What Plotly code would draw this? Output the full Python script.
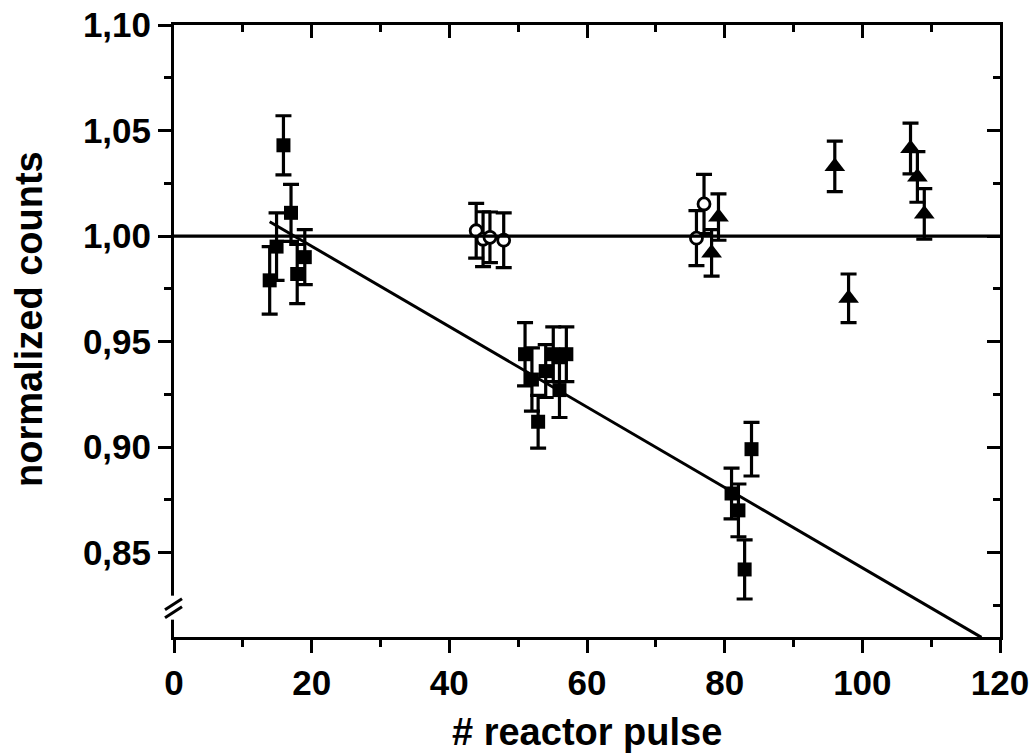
import plotly.graph_objects as go

# ---- data ----
sq_x = [13.9, 14.9, 15.9, 17.0, 17.9, 19.0, 51.0, 52.0, 52.9, 54.0, 55.1, 56.0, 57.0, 81.0, 82.0, 82.9, 83.9]
sq_y = [0.979, 0.995, 1.043, 1.011, 0.982, 0.990, 0.944, 0.932, 0.912, 0.936, 0.944, 0.927, 0.944, 0.878, 0.870, 0.842, 0.899]
sq_err = [0.016, 0.016, 0.014, 0.0135, 0.014, 0.013, 0.015, 0.015, 0.0125, 0.0125, 0.013, 0.013, 0.013, 0.012, 0.0125, 0.014, 0.0127]

circ_x = [43.9, 44.9, 45.9, 47.9, 75.9, 77.0]
circ_y = [1.0025, 0.9985, 0.9994, 0.998, 0.999, 1.0152]
circ_err = [0.013, 0.013, 0.012, 0.013, 0.013, 0.014]

tri_x = [78.1, 79.1, 96.0, 98.0, 107.0, 108.0, 109.0]
tri_y = [0.992, 1.009, 1.033, 0.9705, 1.0415, 1.028, 1.0105]
tri_err = [0.011, 0.011, 0.012, 0.0115, 0.012, 0.012, 0.012]

ref_x = [0, 120]
ref_y = [1.0, 1.0]

fit_x = [13.9, 117.3]
fit_y = [1.0068, 0.8098]

x_range = [0, 120]
y_range = [0.81, 1.10]
y_break = 0.8239

x_title = "# reactor pulse"
y_title = "normalized counts"

FONT = "Liberation Sans, Arial, sans-serif"
BLACK = "#000000"
LW = 3

err_style = dict(type="data", visible=True, color=BLACK, thickness=3.2, width=8)

fig = go.Figure()
fig.add_trace(go.Scatter(x=sq_x, y=sq_y, mode="markers",
                         error_y=dict(array=sq_err, **err_style),
                         marker=dict(symbol="square", size=14, color=BLACK, line=dict(width=0))))
fig.add_trace(go.Scatter(x=tri_x, y=tri_y, mode="markers",
                         error_y=dict(array=tri_err, **err_style),
                         marker=dict(symbol="triangle-up", size=18, color=BLACK, line=dict(width=0))))
fig.add_trace(go.Scatter(x=circ_x, y=circ_y, mode="markers",
                         error_y=dict(array=circ_err, **err_style),
                         marker=dict(symbol="circle", size=12, color="white", line=dict(width=2.8, color=BLACK))))
fig.add_trace(go.Scatter(x=ref_x, y=ref_y, mode="lines", line=dict(color=BLACK, width=3.2)))
fig.add_trace(go.Scatter(x=fit_x, y=fit_y, mode="lines", line=dict(color=BLACK, width=3)))
# dummy trace to activate mirrored axes with inside ticks
fig.add_trace(go.Scatter(x=[None], y=[None], xaxis="x2", yaxis="y2", hoverinfo="skip"))

axis_common = dict(showline=True, linecolor=BLACK, linewidth=LW, showgrid=False, zeroline=False,
                   tickcolor=BLACK, tickwidth=LW, ticklen=13, automargin=False)
minor_out = dict(ticks="outside", ticklen=7, tickwidth=LW, tickcolor=BLACK)
minor_in = dict(ticks="inside", ticklen=7, tickwidth=LW, tickcolor=BLACK)

fig.update_layout(
    width=1033, height=754,
    margin=dict(l=174, r=33, t=25, b=117),
    paper_bgcolor="white", plot_bgcolor="white",
    showlegend=False,
    separators=",.",
    font=dict(family=FONT, color=BLACK),
    xaxis=dict(range=x_range, dtick=20, tick0=0, ticks="outside",
               minor=dict(dtick=10, **minor_out),
               tickfont=dict(size=35, family=FONT, weight="bold"),
               **axis_common),
    yaxis=dict(range=y_range, dtick=0.05, tick0=0.85, ticks="outside", tickformat=".2f",
               minor=dict(dtick=0.025, **minor_out),
               tickfont=dict(size=35, family=FONT, weight="bold"),
               **axis_common),
    xaxis2=dict(range=x_range, overlaying="x", side="top", dtick=20, tick0=0, ticks="inside",
                showticklabels=False, minor=dict(dtick=10, **minor_in), **axis_common),
    yaxis2=dict(range=y_range, overlaying="y", side="right", dtick=0.05, tick0=0.85, ticks="inside",
                showticklabels=False, minor=dict(dtick=0.025, **minor_in), **axis_common),
)

# axis titles as annotations for exact placement
fig.add_annotation(text="<b>" + x_title + "</b>", xref="paper", yref="paper", x=0.5, y=0,
                   xanchor="center", yanchor="middle", yshift=-95, showarrow=False,
                   font=dict(size=38, family=FONT, color=BLACK))
fig.add_annotation(text="<b>" + y_title + "</b>", xref="paper", yref="paper", x=0, y=(637 - 319) / 612,
                   xanchor="center", yanchor="middle", xshift=-145, textangle=-90, showarrow=False,
                   font=dict(size=38, family=FONT, color=BLACK))

# axis break mark on the left y axis
yb = (y_break - y_range[0]) / (y_range[1] - y_range[0])
fig.add_shape(type="rect", xref="paper", yref="paper", xsizemode="pixel", ysizemode="pixel",
              xanchor=0, yanchor=yb, x0=-13, x1=6, y0=-12, y1=12,
              fillcolor="white", line=dict(width=0), layer="above")
for dy in (-4, 4):
    fig.add_shape(type="line", xref="paper", yref="paper", xsizemode="pixel", ysizemode="pixel",
                  xanchor=0, yanchor=yb, x0=-9, x1=8, y0=dy - 6, y1=dy + 5,
                  line=dict(color=BLACK, width=LW), layer="above")

fig.write_html("out.html")
